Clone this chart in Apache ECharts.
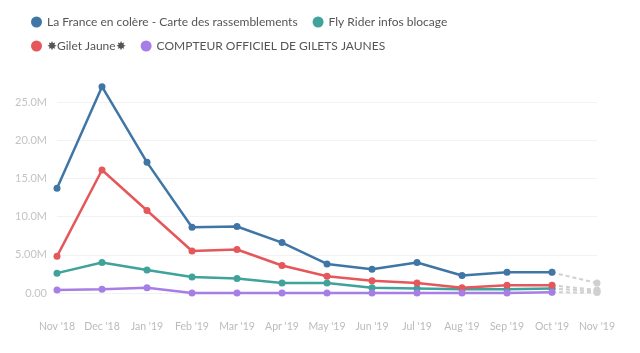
<!DOCTYPE html>
<html>
<head>
<meta charset="utf-8">
<script src="https://cdn.jsdelivr.net/npm/echarts@6/dist/echarts.min.js"></script>
<style>
  html, body { margin: 0; padding: 0; background: #fff; }
  #chart { width: 640px; height: 353px; }
</style>
</head>
<body>
<div id="chart"></div>
<script>
const months = ["Nov '18", "Dec '18", "Jan '19", "Feb '19", "Mar '19", "Apr '19", "May '19",
  "Jun '19", "Jul '19", "Aug '19", "Sep '19", "Oct '19", "Nov '19"];

// values in millions, Nov '19 is the projected (dashed) point
const franceColere = [13.7, 27.0, 17.1, 8.6, 8.7, 6.6, 3.8, 3.1, 4.0, 2.3, 2.7, 2.7];
const giletJaune = [4.8, 16.1, 10.8, 5.5, 5.7, 3.6, 2.2, 1.6, 1.3, 0.7, 1.0, 1.0];
const flyRider = [2.6, 4.0, 3.0, 2.1, 1.9, 1.3, 1.3, 0.7, 0.6, 0.5, 0.5, 0.6];
const compteur = [0.4, 0.5, 0.7, 0.0, 0.0, 0.0, 0.0, 0.0, 0.0, 0.0, 0.0, 0.1];
const projected = [1.3, 0.2, 0.4, 0.05];

const names = [
  'La France en colère - Carte des rassemblements',
  'Fly Rider infos blocage',
  '✸Gilet Jaune✸',
  'COMPTEUR OFFICIEL DE GILETS JAUNES'
];
const colors = ['#3f76a6', '#3fa39b', '#e5575a', '#a77ee6'];
const values = [franceColere, flyRider, giletJaune, compteur];

const chart = echarts.init(document.getElementById('chart'));

const series = [];
values.forEach((vals, i) => {
  series.push({
    name: names[i],
    type: 'line',
    data: vals.map(v => v * 1e6),
    color: colors[i],
    symbol: 'circle',
    symbolSize: 7,
    lineStyle: { width: 2.5 },
    clip: false,
    z: 3
  });
  const dash = vals.map(() => '-');
  dash[dash.length - 1] = vals[vals.length - 1] * 1e6;
  dash.push(projected[i] * 1e6);
  series.push({
    name: names[i] + ' (proj)',
    type: 'line',
    data: dash,
    symbol: 'circle',
    symbolSize: 7,
    itemStyle: { color: '#d0d0d0' },
    lineStyle: { width: 2, type: [4, 3], color: '#d0d0d0' },
    clip: false,
    z: 1
  });
});

chart.setOption({
  animation: false,
  legend: {
    data: names,
    left: 26,
    top: 10,
    width: 450,
    icon: 'circle',
    itemWidth: 11,
    itemHeight: 11,
    itemGap: 10,
    textStyle: { color: '#555', fontSize: 12, lineHeight: 14, padding: [0, 5, 0, 0], fontFamily: 'Lato' }
  },
  grid: { left: 57, right: 43, top: 102, bottom: 60 },
  xAxis: {
    type: 'category',
    data: months,
    boundaryGap: false,
    axisLine: { show: false },
    axisTick: { show: false },
    axisLabel: { color: '#bbb', fontSize: 10.5, margin: 28, interval: 0, fontFamily: 'Lato' }
  },
  yAxis: {
    type: 'value',
    min: 0,
    max: 25e6,
    interval: 5e6,
    axisLine: { show: false },
    axisTick: { show: false },
    splitLine: { lineStyle: { color: '#f2f2f2' } },
    axisLabel: {
      color: '#c4c4c4', fontSize: 11, margin: 10, fontFamily: 'Lato',
      formatter: v => v === 0 ? '0.00' : (v / 1e6 < 10 ? (v / 1e6).toFixed(2) : (v / 1e6).toFixed(1)) + 'M'
    }
  },
  series: series
});
</script>
</body>
</html>
